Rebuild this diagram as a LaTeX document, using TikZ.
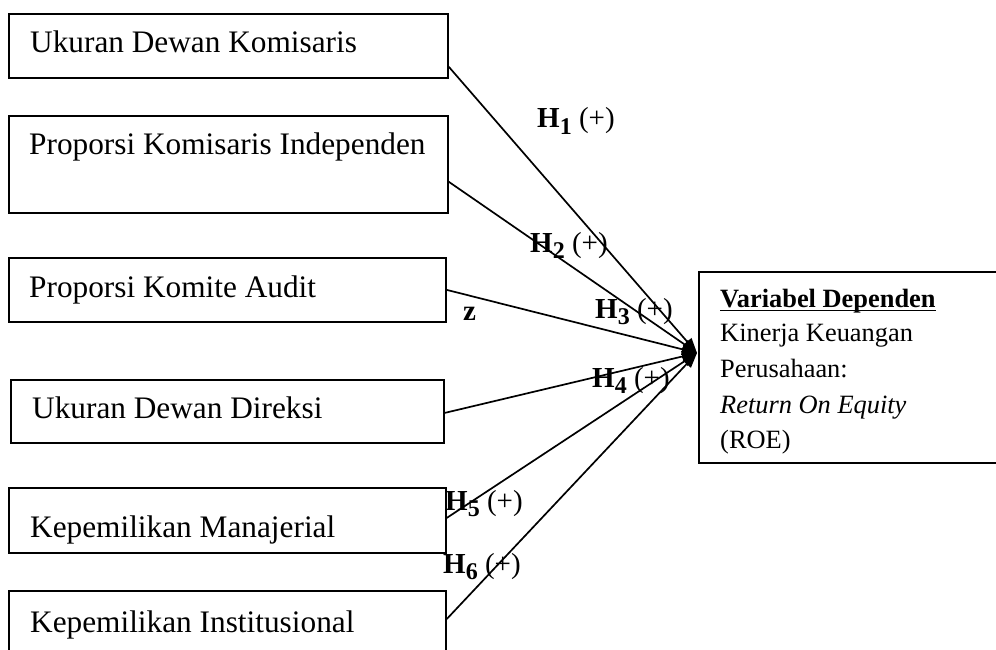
\documentclass[tikz,border=0pt]{standalone}
\usepackage{fontspec}
\setmainfont{Liberation Serif}
\usetikzlibrary{arrows.meta}
\newcommand{\hyplab}[1]{\textbf{H}\raisebox{-0.22em}{\fontsize{24}{24}\selectfont\bfseries #1}\ (+)}
\tikzset{
  varbox/.style={draw, line width=1.8pt, rectangle, inner sep=0pt, anchor=north west},
  boxtext/.style={anchor=base west, inner sep=0pt, font=\fontsize{31.3}{38}\selectfont},
  deptext/.style={anchor=base west, inner sep=0pt, font=\fontsize{26.4}{32}\selectfont},
  hlabel/.style={anchor=base west, inner sep=0pt, font=\fontsize{29}{34}\selectfont},
  link/.style={line width=1.7pt, -{Triangle[length=15pt,width=11pt]}}
}
\begin{document}
\begin{tikzpicture}[x=1pt,y=-1pt]
\useasboundingbox (0,0) rectangle (996,650);
% independent variable boxes
\node[varbox, minimum width=439pt, minimum height=64pt] (b1) at (8,13) {};
\node[varbox, minimum width=439pt, minimum height=97pt] (b2) at (8,115) {};
\node[varbox, minimum width=437pt, minimum height=64pt] (b3) at (8,257) {};
\node[varbox, minimum width=433pt, minimum height=63pt] (b4) at (10,379) {};
\node[varbox, minimum width=437pt, minimum height=65pt] (b5) at (8,487) {};
\node[varbox, minimum width=437pt, minimum height=80pt] (b6) at (8,590) {};
\node[boxtext] (t1) at (30,53) {Ukuran Dewan Komisaris};
\node[boxtext] (t2) at (29,155) {Proporsi Komisaris Independen};
\node[boxtext] (t3) at (29,297) {Proporsi Komite Audit};
\node[boxtext] (t4) at (32,418) {Ukuran Dewan Direksi};
\node[boxtext] (t5) at (30,537) {Kepemilikan Manajerial};
\node[boxtext] (t6) at (30,632) {Kepemilikan Institusional};
% dependent variable box (open on the right)
\node[varbox, minimum width=304pt, minimum height=191pt] (dep) at (698,271) {};
\node[deptext, font=\fontsize{26.4}{32}\selectfont\bfseries] (dh) at (720,307) {Variabel Dependen};
\draw[line width=1.4pt] ([yshift=-3.5pt]dh.base west) -- ([yshift=-3.5pt]dh.base east);
\node[deptext] (d1) at (720,341) {Kinerja Keuangan};
\node[deptext] (d2) at (720,377) {Perusahaan:};
\node[deptext] (d3) at (720,413) {\itshape Return On Equity};
\node[deptext] (d4) at (720,448) {(ROE)};
% connectors
\coordinate (tip) at (697,353);
\draw[link] ([yshift=12pt]b1.south east) -- (tip);
\draw[link] ([yshift=32pt]b2.south east) -- (tip);
\draw[link] (b3.east) -- (tip);
\draw[link] ([yshift=-1.5pt]b4.east) -- (tip);
\draw[link] ([yshift=2.5pt]b5.east) -- (tip);
\draw[link] ([yshift=-29pt]b6.north east) -- (tip);
% labels
\node[hlabel] (h1) at (537,128) {\hyplab{1}};
\node[hlabel] (h2) at (530,252) {\hyplab{2}};
\node[hlabel] (h3) at (595,318) {\hyplab{3}};
\node[hlabel] (h4) at (592,387) {\hyplab{4}};
\node[hlabel] (h5) at (445,510) {\hyplab{5}};
\node[hlabel] (h6) at (443,573) {\hyplab{6}};
\node[hlabel, font=\fontsize{29}{34}\selectfont\bfseries] (zl) at (463,320) {z};
\end{tikzpicture}
\end{document}
